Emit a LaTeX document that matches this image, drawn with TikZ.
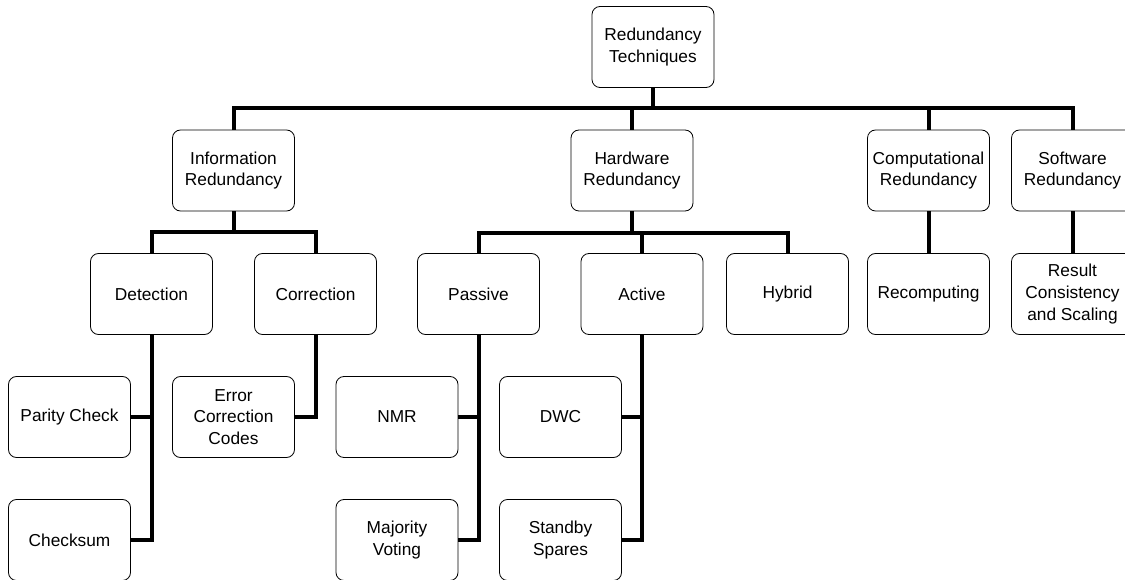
\documentclass[tikz,border=0pt]{standalone}
\usepackage{fontspec}
\newfontfamily\techfont{Liberation Sans}
\begin{document}
\begin{tikzpicture}[x=1pt,y=-1pt,
	tech/.style={draw,rounded corners=8pt,minimum width=122pt,minimum height=81pt,align=center,line width=0.8pt,font={\techfont\fontsize{17.3}{21.7}\selectfont}},
	link/.style={line width=4pt}]
	\useasboundingbox (0,0) rectangle (1125,580);
	\node[tech] (root) at (653,47) {Redundancy\\Techniques};
	\node[tech] (info) at (233.5,170.5) {Information\\Redundancy};
	\node[tech] (hard) at (632,170.5) {Hardware\\Redundancy};
	\node[tech] (comp) at (928.5,170.5) {Computational\\Redundancy};
	\node[tech] (soft) at (1072.5,170.5) {Software\\Redundancy};
	\node[tech] (det) at (151.5,294) {Detection};
	\node[tech] (corr) at (315.5,294) {Correction};
	\node[tech] (pass) at (478.5,294) {Passive};
	\node[tech] (act) at (642,294) {Active};
	\node[tech] (hyb) at (787.5,294) {Hybrid};
	\node[tech] (recomp) at (928.5,294) {Recomputing};
	\node[tech] (result) at (1072.5,294) {Result\\Consistency\\and Scaling};
	\node[tech] (parity) at (69.5,417) {Parity Check};
	\node[tech] (ecc) at (233.5,417) {Error\\Correction\\Codes};
	\node[tech] (nmr) at (397,417) {NMR};
	\node[tech] (dwc) at (560.5,417) {DWC};
	\node[tech] (checksum) at (69.5,540) {Checksum};
	\node[tech] (major) at (397,540) {Majority\\Voting};
	\node[tech] (standby) at (560.5,540) {Standby\\Spares};
	\coordinate (top bus) at (653,108);
	\coordinate (info bus) at (233.5,232);
	\coordinate (hard bus) at (632,233);
	\draw[link] (root) -- (top bus);
	\draw[link] (info) |- (top bus) -| (soft);
	\draw[link] (hard) -- (hard |- top bus);
	\draw[link] (comp) -- (comp |- top bus);
	\draw[link] (info) -- (info bus);
	\draw[link] (det) |- (info bus) -| (corr);
	\draw[link] (hard) -- (hard bus);
	\draw[link] (pass) |- (hard bus) -| (hyb);
	\draw[link] (act) -- (act |- hard bus);
	\draw[link] (comp) -- (recomp);
	\draw[link] (soft) -- (result);
	\draw[link] (det) |- (parity);
	\draw[link] (det) |- (checksum);
	\draw[link] (corr) |- (ecc);
	\draw[link] (pass) |- (nmr);
	\draw[link] (pass) |- (major);
	\draw[link] (act) |- (dwc);
	\draw[link] (act) |- (standby);
\end{tikzpicture}
\end{document}
